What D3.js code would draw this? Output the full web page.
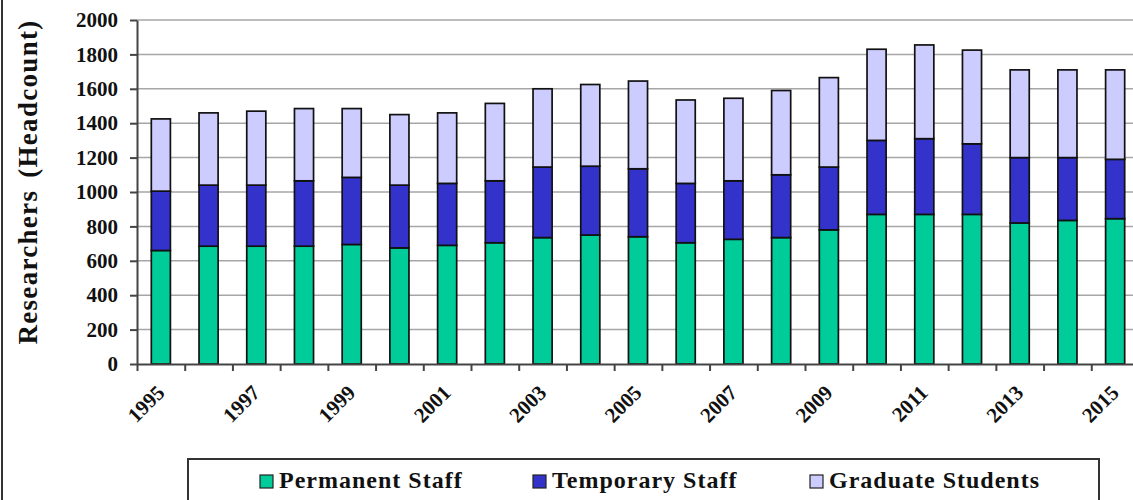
<!DOCTYPE html>
<html>
<head>
<meta charset="utf-8">
<script src="https://cdn.jsdelivr.net/npm/d3@7"></script>
<style>
  body { margin: 0; background: #fff; }
  svg { display: block; font-family: "Liberation Serif", "Times New Roman", serif; font-weight: bold; }
</style>
</head>
<body>
<svg width="1133" height="500"></svg>
<script>
// values (headcount)
let years = d3.range(1995, 2016);
let permanent = [660, 685, 685, 685, 695, 675, 690, 705, 735, 750, 740, 705, 725, 735, 780, 870, 870, 870, 820, 835, 845];
let temporary = [345, 355, 355, 380, 390, 365, 360, 360, 410, 400, 395, 345, 340, 365, 365, 430, 440, 410, 380, 365, 345];
let graduate  = [420, 420, 430, 420, 400, 410, 410, 450, 455, 475, 510, 485, 480, 490, 520, 530, 545, 545, 510, 510, 520];
let seriesNames = ['Permanent Staff', 'Temporary Staff', 'Graduate Students'];
let colors = ['#00cc99', '#3333cc', '#ccccff'];
let yTicks = d3.range(0, 2001, 200);

let svg = d3.select('svg');

let plotLeft = 137, plotRight = 1139, plotTop = 20, plotBottom = 364;

let x = d3.scaleBand()
  .domain(years)
  .range([plotLeft, plotRight])
  .paddingInner(0.6)
  .paddingOuter(0.3);

// category boundaries for the tick marks
let xb = d3.scaleLinear().domain([0, years.length]).range([plotLeft, plotRight]);

let y = d3.scaleLinear().domain([0, 2000]).range([plotBottom, plotTop]);

// frame line on the left
svg.append('line')
  .attr('x1', 2).attr('x2', 2).attr('y1', 0).attr('y2', 500)
  .attr('stroke', '#333').attr('stroke-width', 2);

// gridlines
svg.append('g')
  .selectAll('line')
  .data(yTicks.filter(d => d > 0))
  .enter()
  .append('line')
  .attr('x1', plotLeft).attr('x2', plotRight)
  .attr('y1', d => y(d)).attr('y2', d => y(d))
  .attr('stroke', '#a6a6a6')
  .attr('stroke-width', 1.5);

// stack the three series
let rows = years.map((yr, i) => ({
  year: yr,
  'Permanent Staff': permanent[i],
  'Temporary Staff': temporary[i],
  'Graduate Students': graduate[i]
}));
let stacked = d3.stack().keys(seriesNames)(rows);

svg.append('g')
  .selectAll('g')
  .data(stacked)
  .enter()
  .append('g')
  .attr('fill', (d, i) => colors[i])
  .selectAll('rect')
  .data(d => d)
  .enter()
  .append('rect')
  .attr('x', d => x(d.data.year))
  .attr('width', x.bandwidth())
  .attr('y', d => y(d[1]))
  .attr('height', d => y(d[0]) - y(d[1]))
  .attr('stroke', '#111')
  .attr('stroke-width', 1.7);

// y axis
let yAxis = svg.append('g')
  .attr('transform', 'translate(' + plotLeft + ',0)')
  .call(d3.axisLeft(y).tickValues(yTicks).tickFormat(d3.format('d'))
    .tickSize(7).tickPadding(12).tickSizeOuter(0));
yAxis.select('.domain').attr('stroke', '#444').attr('stroke-width', 2);
yAxis.selectAll('.tick line').attr('stroke', '#444').attr('stroke-width', 2);
yAxis.selectAll('text')
  .attr('font-size', 21)
  .attr('font-family', '"Liberation Serif", serif')
  .attr('font-weight', 'bold')
  .attr('fill', '#111');

// x axis: boundary ticks
let xTickAxis = svg.append('g')
  .attr('transform', 'translate(0,' + plotBottom + ')')
  .call(d3.axisBottom(xb).ticks(years.length).tickFormat('').tickSize(7).tickSizeOuter(0));
xTickAxis.select('.domain').attr('stroke', '#444').attr('stroke-width', 2);
xTickAxis.selectAll('.tick line').attr('stroke', '#444').attr('stroke-width', 2);

// x axis: labels on every other year
let xAxis = svg.append('g')
  .attr('transform', 'translate(0,' + plotBottom + ')')
  .call(d3.axisBottom(x).tickValues(years.filter(d => d % 2 === 1)).tickSize(0));
xAxis.select('.domain').remove();
xAxis.selectAll('text')
  .attr('y', 0)
  .attr('dy', 0)
  .attr('transform', 'translate(5,30) rotate(-45)')
  .attr('text-anchor', 'end')
  .attr('font-size', 21)
  .attr('font-family', '"Liberation Serif", serif')
  .attr('font-weight', 'bold')
  .attr('fill', '#111');

// y title
svg.append('text')
  .attr('transform', 'translate(37,182) rotate(-90)')
  .attr('text-anchor', 'middle')
  .attr('font-size', 27)
  .attr('letter-spacing', 1.3)
  .attr('word-spacing', 4)
  .attr('fill', '#111')
  .text('Researchers (Headcount)');

// legend
svg.append('rect')
  .attr('x', 188).attr('y', 459)
  .attr('width', 911).attr('height', 60)
  .attr('fill', '#fff')
  .attr('stroke', '#333')
  .attr('stroke-width', 2);

let legendX = [260, 533, 810];
let legend = svg.append('g')
  .selectAll('g')
  .data(seriesNames)
  .enter()
  .append('g')
  .attr('transform', (d, i) => 'translate(' + legendX[i] + ',475)');
legend.append('rect')
  .attr('width', 13).attr('height', 13)
  .attr('fill', (d, i) => colors[i])
  .attr('stroke', '#222')
  .attr('stroke-width', 1.2);
legend.append('text')
  .attr('x', 19).attr('y', 13)
  .attr('font-size', 24)
  .attr('letter-spacing', 1)
  .attr('fill', '#111')
  .text(d => d);
</script>
</body>
</html>
